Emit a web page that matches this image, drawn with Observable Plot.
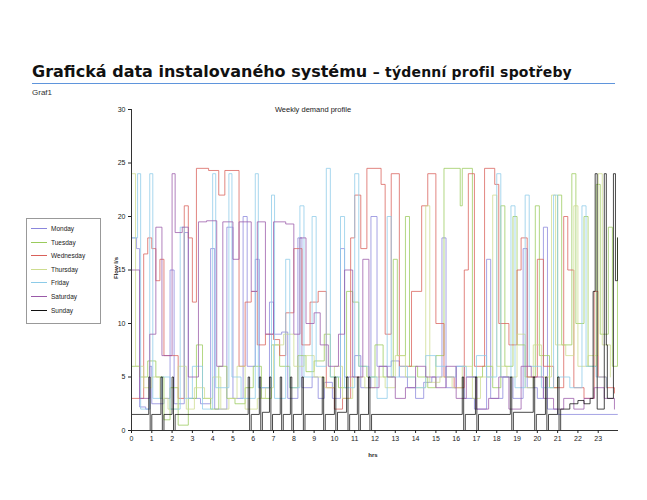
<!DOCTYPE html>
<html>
<head>
<meta charset="utf-8">
<script src="https://cdn.jsdelivr.net/npm/d3@7"></script>
<script src="https://cdn.jsdelivr.net/npm/@observablehq/plot@0.6"></script>
<style>
  body { margin: 0; background: #fff; }
  #wrap { position: relative; width: 647px; height: 500px; overflow: hidden; font-family: "Liberation Sans", Arial, sans-serif; }
  .abs { position: absolute; white-space: nowrap; }
  #title { left: 32px; top: 62px; font-family: "DejaVu Sans", sans-serif; font-weight: bold; font-size: 16px; color: #111; }
  #title span { font-size: 14px; letter-spacing: 0.2px; }
  #rule { left: 32px; top: 83px; width: 583px; height: 1px; background: #5f95dc; }
  #graf { left: 32px; top: 88px; font-size: 8px; color: #333; }
  #ctitle { left: 313px; top: 105px; transform: translateX(-50%); font-size: 7.5px; color: #222; }
  #ylab { left: 116px; top: 268px; transform: translate(-50%, -50%) rotate(-90deg); font-size: 6px; font-weight: bold; color: #222; }
  #xlab { left: 373px; top: 452px; transform: translateX(-50%); font-size: 6px; font-weight: bold; color: #222; }
  #legend { left: 26px; top: 218px; width: 73px; height: 104px; border: 1px solid #999; background: #fff; }
  .li { position: absolute; left: 4px; font-size: 6.5px; color: #222; display: flex; align-items: center; }
  .li i { display: inline-block; width: 16px; height: 0; border-top: 1.2px solid; margin-right: 4px; }
  #chart { left: 0; top: 100px; }
</style>
</head>
<body>
<div id="wrap">
  <div class="abs" id="title">Grafická data instalovaného systému <span>– týdenní profil spotřeby</span></div>
  <div class="abs" id="rule"></div>
  <div class="abs" id="graf">Graf1</div>
  <div class="abs" id="chart"></div>
  <div class="abs" id="ctitle">Weekly demand profile</div>
  <div class="abs" id="ylab">Flow l/s</div>
  <div class="abs" id="xlab">hrs</div>
  <div class="abs" id="legend"></div>
</div>
<script>
const days = ["Monday","Tuesday","Wednesday","Thursday","Friday","Saturday","Sunday"];
const colors = ["#8a86dc","#9acb5c","#d9605a","#cddc8e","#8ccbe8","#9a5aa8","#111111"];
const hourTicks = [0,1,2,3,4,5,6,7,8,9,10,11,12,13,14,15,16,17,18,19,20,21,22,23];
const flowTicks = [0,5,10,15,20,25,30];

const monday = [[0,18],[0.25,17],[0.4,2.2],[0.7,2],[0.9,6],[1.0,2.5],[1.6,3],[1.9,15],[2.1,2.5],[2.6,18.5],[2.8,3],[3.4,2.5],[3.9,17],[4.1,2],[4.7,19],[5.0,3],[5.5,20],[5.7,6],[6.1,16],[6.3,4],[6.8,12],[7.0,9],[7.4,9.2],[7.7,3],[8.2,18],[8.4,4],[8.9,5],[9.2,3],[9.5,4.5],[9.9,3],[10.3,17],[10.5,5],[11.0,7],[11.3,4],[11.8,20],[12.1,6],[12.8,6.5],[13.2,5],[13.6,4],[14.0,3],[14.4,4.5],[14.8,5],[15.3,18],[15.5,4],[16.0,6],[16.4,3],[16.9,2],[17.5,16],[17.7,3],[18.3,5],[18.8,3],[19.3,17],[19.5,4],[20.0,3],[20.3,19],[20.5,2],[21.0,1.5],[23.95,1.5]];
const tuesday = [[0,6],[0.4,5],[0.8,6.5],[1.2,5],[1.6,1],[1.9,4],[2.3,0.5],[2.8,3],[3.2,8],[3.5,3],[3.9,2],[4.3,6],[4.7,3],[5.1,2.5],[5.6,4],[6.0,6],[6.4,3],[6.9,8],[7.3,6],[7.8,4],[8.2,7],[8.6,5.5],[9.0,6.5],[9.5,9],[9.8,5],[10.2,4],[10.6,13],[10.9,12],[11.2,6],[11.6,5],[12.0,8],[12.4,5],[12.9,16],[13.1,7],[13.5,20],[13.7,6],[14.1,5],[14.6,4],[15.0,7],[15.4,24.5],[16.2,21],[16.3,24.5],[16.8,5],[17.3,6],[17.8,4],[18.2,21],[18.4,6],[18.8,20],[19.0,8],[19.4,5],[19.9,21],[20.1,7],[20.6,4],[21.0,22],[21.2,8],[21.7,24],[21.9,10],[22.3,20],[22.5,6],[22.9,23],[23.1,9],[23.5,19],[23.7,6],[23.95,18]];
const wednesday = [[0,3],[0.6,16.5],[0.8,18],[1.0,17],[1.2,14],[1.4,16],[1.6,7],[2.0,7],[2.3,3],[2.6,21],[2.8,18],[3.0,12],[3.2,24.5],[3.8,24.3],[4.3,22],[4.6,24.3],[5.3,6],[5.6,12],[5.9,13],[6.2,8],[6.6,9],[7.0,8.5],[7.3,7],[7.6,11],[8.0,17],[8.4,8],[8.8,12],[9.2,13],[9.6,4],[10.0,2],[10.4,3],[10.8,18],[11.0,22],[11.3,17],[11.6,24.5],[12.3,23],[12.5,9],[12.8,24],[13.2,6],[13.8,13],[14.3,21],[14.6,24],[15.0,10],[15.4,5],[15.9,4],[16.4,15],[16.6,24],[16.9,6],[17.4,24.5],[17.9,23],[18.1,10],[18.6,8],[19.0,15],[19.2,18],[19.5,5],[20.0,16],[20.3,6],[20.8,4],[21.3,20],[21.5,15],[21.8,4],[22.3,3],[22.8,13],[23.0,5],[23.4,4],[23.8,3.5]];
const thursday = [[0,24],[0.2,6],[0.6,4],[1.0,5],[1.4,3],[1.8,2],[2.3,6],[2.7,2],[3.1,4],[3.6,3],[4.0,5],[4.4,2],[4.8,3],[5.2,6],[5.6,2],[6.2,3],[6.6,4],[7.0,8],[7.5,9],[8.0,6],[8.5,7],[9.0,5],[9.5,4],[10.0,6],[10.4,3],[10.9,5],[11.5,4],[12.0,5],[12.5,4],[13.0,7],[13.5,5],[14.0,4],[14.5,21],[14.7,4.5],[15.2,5],[15.8,4],[16.3,6],[16.8,3],[17.2,5],[17.8,22],[18.0,6],[18.5,5],[19.0,9],[19.4,4],[19.8,8],[20.2,5],[20.7,22],[20.9,8],[21.4,7],[21.8,21],[22.0,6],[22.5,7],[23.0,24],[23.2,8],[23.6,5]];
const friday = [[0,18],[0.3,24],[0.45,2],[0.9,24],[1.05,3],[1.5,5],[1.9,2],[2.4,19],[2.6,3],[3.0,6],[3.5,2],[4.0,24],[4.15,4],[4.8,24],[4.95,5],[5.4,3],[6.1,24],[6.25,4],[6.9,22],[7.05,3],[7.6,16],[7.8,4],[8.3,21],[8.5,5],[8.9,20],[9.1,6],[9.6,24.5],[9.8,5],[10.3,20],[10.5,4],[11.0,24],[11.2,6],[11.7,5],[12.1,3],[12.6,20],[12.8,5],[13.2,6],[13.6,5],[14.0,4],[14.5,7],[15.0,6],[15.5,5],[16.0,6],[16.5,5],[17.0,7],[17.5,5],[18.0,24],[18.2,5],[18.7,21],[18.9,4],[19.4,22],[19.6,6],[20.2,4],[20.8,22],[21.0,5],[21.6,4],[22.2,21],[22.4,6],[22.9,5],[23.4,4]];
const saturday = [[0,15],[0.4,3],[0.9,9],[1.2,19],[1.5,7],[2.0,24],[2.15,18.5],[2.5,19],[2.8,5],[3.3,19.5],[3.7,19.6],[4.2,6],[4.5,19.5],[5.0,16],[5.3,19.5],[5.9,13],[6.2,19.5],[6.6,9],[7.0,19.5],[7.6,19.3],[8.0,9],[8.3,18],[8.6,10],[9.0,11],[9.3,8],[9.7,6],[10.2,9],[10.5,15],[10.9,5],[11.4,16],[11.7,4],[12.2,6],[12.6,5],[13.0,3],[13.5,4],[14.0,6],[14.5,5],[15.0,4],[15.5,6],[16.0,3],[16.5,5],[17.0,2],[17.6,3],[18.1,5],[18.6,2],[19.2,6],[19.7,5],[20.3,3],[20.8,2],[21.3,3],[21.8,2],[22.3,3],[22.8,4],[23.3,3],[23.8,2]];
const sunday = [[0,1.5],[0.85,5],[0.92,0],[1.0,1.5],[1.45,5],[1.52,0],[1.6,1.5],[2.0,5],[2.07,0],[2.15,1.5],[5.75,5],[5.82,0],[5.9,1.5],[6.3,5],[6.37,0],[6.45,1.7],[6.8,5],[6.87,0],[6.95,1.5],[7.33,5],[7.4,0],[7.48,1.5],[7.83,5],[7.9,0],[7.98,1.5],[8.4,5],[8.47,0],[8.55,1.5],[9.4,5],[9.47,0],[9.55,1.5],[10.0,5],[10.07,0],[10.15,1.7],[10.6,5],[10.67,0],[10.75,1.5],[11.13,5],[11.2,0],[11.28,1.5],[11.68,5],[11.75,0],[11.83,1.5],[16.3,5],[16.37,0],[16.45,1.5],[16.95,5],[17.02,0],[17.1,1.5],[18.67,5],[18.74,0],[18.82,1.7],[19.8,5],[19.87,0],[19.95,1.5],[20.4,5],[20.47,0],[20.55,1.5],[21.0,5],[21.07,0],[21.15,2],[21.6,2.5],[22.0,2.8],[22.3,2.5],[22.6,3],[22.75,13],[22.85,24],[22.95,2],[23.3,24],[23.4,8],[23.45,3],[23.75,24],[23.85,14],[23.95,18]];

const series = [monday, tuesday, wednesday, thursday, friday, saturday, sunday];
const rows = series.flatMap((s, i) => s.map(([h, v]) => ({day: days[i], h, v})));

const chart = Plot.plot({
  width: 647, height: 370,
  marginTop: 9, marginLeft: 131, marginRight: 29, marginBottom: 40,
  style: {fontFamily: "Liberation Sans, Arial, sans-serif", fontSize: "7px", color: "#222", background: "transparent"},
  x: {domain: [0, 24], label: null},
  y: {domain: [0, 30], label: null},
  color: {domain: days, range: colors},
  marks: [
    Plot.line(rows, {x: "h", y: "v", z: "day", stroke: "day", curve: "step-after", strokeWidth: 0.9, strokeOpacity: 0.85}),
    Plot.ruleX([0], {stroke: "#333"}),
    Plot.ruleY([0], {stroke: "#333"}),
    Plot.axisX({ticks: hourTicks, tickFormat: d => d, tickSize: 3, tickPadding: 3, label: null}),
    Plot.axisY({ticks: flowTicks, tickSize: 3, tickPadding: 3, label: null})
  ]
});
document.getElementById("chart").appendChild(chart);

const leg = document.getElementById("legend");
days.forEach((d, i) => {
  const el = document.createElement("div");
  el.className = "li";
  el.style.top = (6 + i * 13.6) + "px";
  el.innerHTML = `<i style="border-color:${colors[i]}"></i>${d}`;
  leg.appendChild(el);
});
</script>
</body>
</html>
